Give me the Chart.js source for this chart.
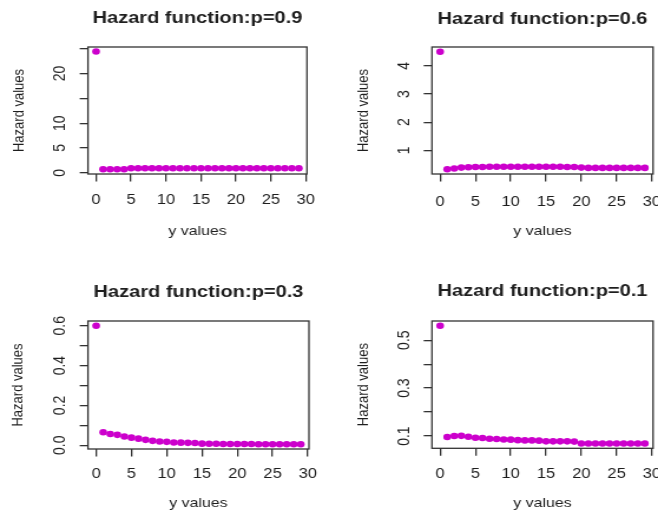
<!DOCTYPE html>
<html>
<head>
<meta charset="utf-8">
<script src="https://cdn.jsdelivr.net/npm/chart.js@4.4.1/dist/chart.umd.min.js"></script>
<style>
  html, body { margin: 0; padding: 0; background: #ffffff; }
  #wrap { position: relative; width: 658px; height: 516px; overflow: hidden; background: #fff; }
  canvas { position: absolute; }
</style>
</head>
<body>
<div id="wrap">
  <canvas id="c0" width="279" height="258" style="left:0px;top:0px;width:329px;height:258px"></canvas>
  <canvas id="c1" width="279" height="258" style="left:329px;top:0px;width:329px;height:258px"></canvas>
  <canvas id="c2" width="279" height="258" style="left:0px;top:258px;width:329px;height:258px"></canvas>
  <canvas id="c3" width="279" height="258" style="left:329px;top:258px;width:329px;height:258px"></canvas>
</div>
<script>
// ---------------- DATA ----------------
const xValues = [0,1,2,3,4,5,6,7,8,9,10,11,12,13,14,15,16,17,18,19,20,21,22,23,24,25,26,27,28,29];

const hazardP09 = [24.45, 0.7, 0.7, 0.7, 0.7, 0.9, 0.9, 0.9, 0.9, 0.9,
                   0.9, 0.9, 0.9, 0.9, 0.9, 0.9, 0.9, 0.9, 0.9, 0.9,
                   0.9, 0.9, 0.9, 0.9, 0.9, 0.9, 0.9, 0.9, 0.9, 0.9];
const hazardP06 = [4.5, 0.33, 0.36, 0.39, 0.40, 0.41, 0.41, 0.42, 0.42, 0.42,
                   0.42, 0.42, 0.42, 0.42, 0.42, 0.42, 0.42, 0.42, 0.41, 0.41,
                   0.39, 0.38, 0.38, 0.38, 0.38, 0.38, 0.38, 0.38, 0.38, 0.38];
const hazardP03 = [0.6, 0.065, 0.056, 0.052, 0.044, 0.038, 0.033, 0.027, 0.022, 0.019,
                   0.017, 0.014, 0.013, 0.012, 0.011, 0.008, 0.007, 0.007, 0.006, 0.006,
                   0.006, 0.006, 0.006, 0.005, 0.005, 0.005, 0.005, 0.005, 0.005, 0.005];
const hazardP01 = [0.56, 0.096, 0.100, 0.101, 0.097, 0.093, 0.092, 0.089, 0.088, 0.086,
                   0.085, 0.083, 0.082, 0.082, 0.081, 0.078, 0.078, 0.078, 0.078, 0.077,
                   0.069, 0.069, 0.069, 0.069, 0.069, 0.069, 0.069, 0.069, 0.069, 0.069];

const panelTitles = ['Hazard function:p=0.9', 'Hazard function:p=0.6',
                     'Hazard function:p=0.3', 'Hazard function:p=0.1'];
const xAxisTitle = 'y values';
const yAxisTitle = 'Hazard values';

const xTicks = [0, 5, 10, 15, 20, 25, 30];
const xTickLabels = ['0', '5', '10', '15', '20', '25', '30'];
const xRange = [-1.16, 30.16];

const yTicksP09 = [0, 5, 10, 15, 20, 25];
const yLabelsP09 = ['0', '5', '10', '', '20', ''];
const yRangeP09 = [-0.25, 25.35];

const yTicksP06 = [1, 2, 3, 4];
const yLabelsP06 = ['1', '2', '3', '4'];
const yRangeP06 = [0.163, 4.667];

const yTicksP03 = [0, 0.1, 0.2, 0.3, 0.4, 0.5, 0.6];
const yLabelsP03 = ['0.0', '', '0.2', '', '0.4', '', '0.6'];
const yRangeP03 = [-0.019, 0.624];

const yTicksP01 = [0.1, 0.2, 0.3, 0.4, 0.5];
const yLabelsP01 = ['0.1', '', '0.3', '', '0.5'];
const yRangeP01 = [0.049, 0.58];

// ---------------- STYLE ----------------
const FONT = "'Liberation Sans', Arial, Helvetica, sans-serif";
const TEXT = '#1e1e1e';
const AXIS = '#333333';
const POINT = '#CC00CC';

const panels = [
  { id: 'c0', values: hazardP09, yTicks: yTicksP09, yLabels: yLabelsP09, yRange: yRangeP09, title: panelTitles[0],
    chartLeft: 74.6, padRight: 18.7, padTop: 47, xAxisH: 84, xLabelPad: 10.6, xTitlePad: 18.2,
    yTitlePad: 9.0, yLabelPad: 8.6, titleBaseline: 22.7 },
  { id: 'c1', values: hazardP06, yTicks: yTicksP06, yLabels: yLabelsP06, yRange: yRangeP06, title: panelTitles[1],
    chartLeft: 87.3, padRight: 4.2, padTop: 47, xAxisH: 84, xLabelPad: 12.3, xTitlePad: 18.7,
    yTitlePad: 21.7, yLabelPad: 12.4, titleBaseline: 24 },
  { id: 'c2', values: hazardP03, yTicks: yTicksP03, yLabels: yLabelsP03, yRange: yRangeP03, title: panelTitles[2],
    chartLeft: 74.6, padRight: 17, padTop: 63, xAxisH: 67, xLabelPad: 8.9, xTitlePad: 4.6,
    yTitlePad: 8.1, yLabelPad: 6.7, titleBaseline: 38.7 },
  { id: 'c3', values: hazardP01, yTicks: yTicksP01, yLabels: yLabelsP01, yRange: yRangeP01, title: panelTitles[3],
    chartLeft: 87.3, padRight: 4.2, padTop: 63, xAxisH: 67.7, xLabelPad: 9.6, xTitlePad: 4.7,
    yTitlePad: 21.7, yLabelPad: 6.7, titleBaseline: 38 }
];

const boxPlugin = {
  id: 'plotBox',
  beforeDatasetsDraw(chart) {
    const { ctx, chartArea: a } = chart;
    ctx.save();
    ctx.strokeStyle = AXIS;
    ctx.lineWidth = 1.3;
    ctx.strokeRect(a.left, a.top, a.right - a.left, a.bottom - a.top);
    ctx.restore();
  }
};

const titlePlugin = {
  id: 'panelTitle',
  afterDraw(chart, args, opts) {
    const { ctx, chartArea: a } = chart;
    ctx.save();
    ctx.font = 'bold ' + opts.size + 'px ' + FONT;
    ctx.fillStyle = TEXT;
    ctx.textAlign = 'center';
    ctx.textBaseline = 'alphabetic';
    ctx.fillText(opts.text, (a.left + a.right) / 2, opts.baseline);
    ctx.restore();
  }
};

panels.forEach(p => {
  const points = xValues.map((x, i) => ({ x: x, y: p.values[i] }));
  new Chart(document.getElementById(p.id), {
    type: 'scatter',
    data: {
      datasets: [{
        data: points,
        backgroundColor: POINT,
        borderColor: POINT,
        borderWidth: 0,
        pointRadius: 3.3,
        pointHoverRadius: 3.3,
        pointStyle: 'circle',
        clip: false
      }]
    },
    plugins: [boxPlugin, titlePlugin],
    options: {
      responsive: false,
      animation: false,
      events: [],
      layout: { padding: { left: 0, top: p.padTop, right: p.padRight, bottom: 0 } },
      plugins: {
        legend: { display: false },
        tooltip: { enabled: false },
        title: { display: false },
        panelTitle: { text: p.title, size: 17, baseline: p.titleBaseline }
      },
      scales: {
        x: {
          type: 'linear',
          position: 'bottom',
          min: xRange[0],
          max: xRange[1],
          afterBuildTicks: s => { s.ticks = xTicks.map(v => ({ value: v })); },
          afterFit: s => { s.height = p.xAxisH; s.paddingLeft = 0; s.paddingRight = 0; },
          border: { display: false },
          grid: { display: true, drawOnChartArea: false, drawTicks: true, tickLength: 7.5, color: AXIS, lineWidth: 1.3 },
          ticks: {
            autoSkip: false,
            maxRotation: 0,
            minRotation: 0,
            padding: p.xLabelPad,
            color: TEXT,
            font: { family: FONT, size: 14 },
            callback: (v, i) => xTickLabels[i]
          },
          title: {
            display: true,
            text: xAxisTitle,
            color: TEXT,
            font: { family: FONT, size: 13.5, lineHeight: 1.2 },
            padding: { top: 0, bottom: p.xTitlePad }
          }
        },
        y: {
          type: 'linear',
          position: 'left',
          min: p.yRange[0],
          max: p.yRange[1],
          afterBuildTicks: s => { s.ticks = p.yTicks.map(v => ({ value: v })); },
          afterFit: s => { s.width = p.chartLeft; s.paddingTop = 0; s.paddingBottom = 0; },
          border: { display: false },
          grid: { display: true, drawOnChartArea: false, drawTicks: true, tickLength: 7, color: AXIS, lineWidth: 1.3 },
          ticks: {
            autoSkip: false,
            minRotation: 90,
            maxRotation: 90,
            crossAlign: 'center',
            padding: p.yLabelPad,
            color: TEXT,
            font: { family: FONT, size: 14 },
            callback: (v, i) => p.yLabels[i]
          },
          title: {
            display: true,
            text: yAxisTitle,
            color: TEXT,
            font: { family: FONT, size: 13, lineHeight: 1.2 },
            padding: { top: p.yTitlePad, bottom: 0 }
          }
        }
      }
    }
  });
});
</script>
</body>
</html>
